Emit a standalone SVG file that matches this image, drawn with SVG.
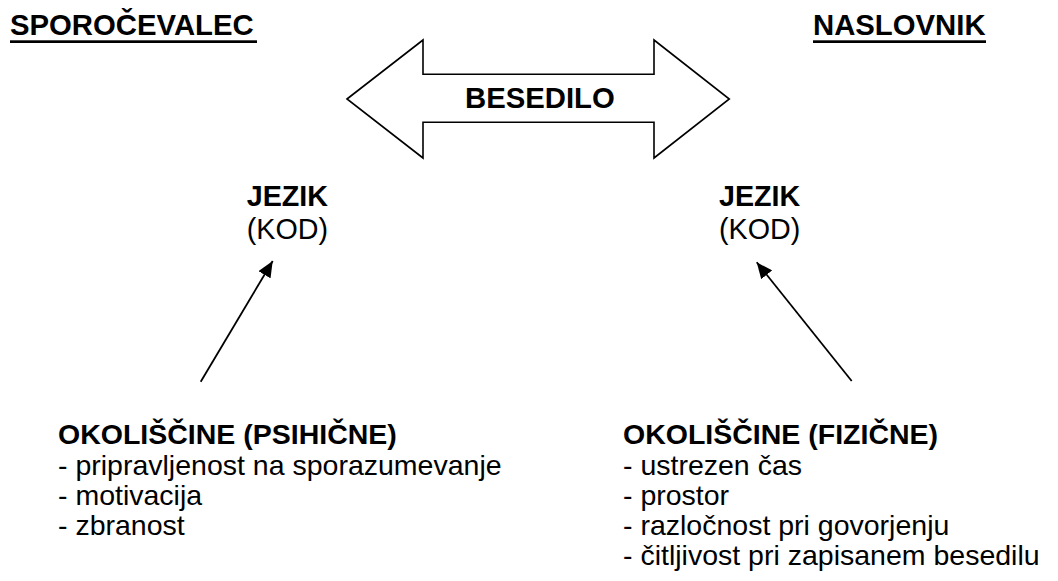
<svg xmlns="http://www.w3.org/2000/svg" width="1058" height="581" viewBox="0 0 1058 581">
<defs>
<style>
text{font-family:"Liberation Sans",Arial,sans-serif;fill:#000}
.h{font-weight:bold;font-size:29.3px}
.j{font-weight:bold;font-size:28.7px}
.k{font-size:28.7px}
.b{font-weight:bold;font-size:28.5px}
.r{font-size:28.5px}
.ln{stroke:#000;stroke-width:1.8;fill:none}
</style>
<marker id="ah" markerUnits="userSpaceOnUse" markerWidth="18" markerHeight="14" refX="16" refY="7" orient="auto">
<path d="M0,0 L16,7 L0,14 Z" fill="#000"/>
</marker>
</defs>
<rect width="1058" height="581" fill="#fff"/>
<g id="sporocevalec">
<text class="h" x="10" y="35">SPOROČEVALEC</text>
<rect x="10" y="40.3" width="247" height="2.7" fill="#000"/>
</g>
<g id="naslovnik">
<text class="h" x="813" y="35">NASLOVNIK</text>
<rect x="813" y="40.3" width="173" height="2.7" fill="#000"/>
</g>
<g id="besedilo">
<polygon points="347,99 423,40 423,74.3 654,74.3 654,40 729.3,99 654,158 654,122.3 423,122.3 423,158" fill="#fff" stroke="#000" stroke-width="1.6" stroke-linejoin="miter"/>
<text class="h" x="465" y="107.7">BESEDILO</text>
</g>
<g id="jezik-left">
<text class="j" x="246.7" y="206">JEZIK</text>
<text class="k" x="246.7" y="239">(KOD)</text>
</g>
<g id="jezik-right">
<text class="j" x="719" y="206">JEZIK</text>
<text class="k" x="719" y="239">(KOD)</text>
</g>
<g id="connectors">
<line class="ln" x1="200.7" y1="381.7" x2="272.7" y2="261" marker-end="url(#ah)"/>
<line class="ln" x1="851.7" y1="381" x2="756.7" y2="262.3" marker-end="url(#ah)"/>
</g>
<g id="psihicne">
<text class="b" x="58" y="443.5">OKOLIŠČINE (PSIHIČNE)</text>
<text class="r" x="58" y="475">- pripravljenost na sporazumevanje</text>
<text class="r" x="58" y="505">- motivacija</text>
<text class="r" x="58" y="535">- zbranost</text>
</g>
<g id="fizicne">
<text class="b" x="623" y="443.5">OKOLIŠČINE (FIZIČNE)</text>
<text class="r" x="623" y="475">- ustrezen čas</text>
<text class="r" x="623" y="505">- prostor</text>
<text class="r" x="623" y="535">- razločnost pri govorjenju</text>
<text class="r" x="623" y="564.5">- čitljivost pri zapisanem besedilu</text>
</g>
</svg>
